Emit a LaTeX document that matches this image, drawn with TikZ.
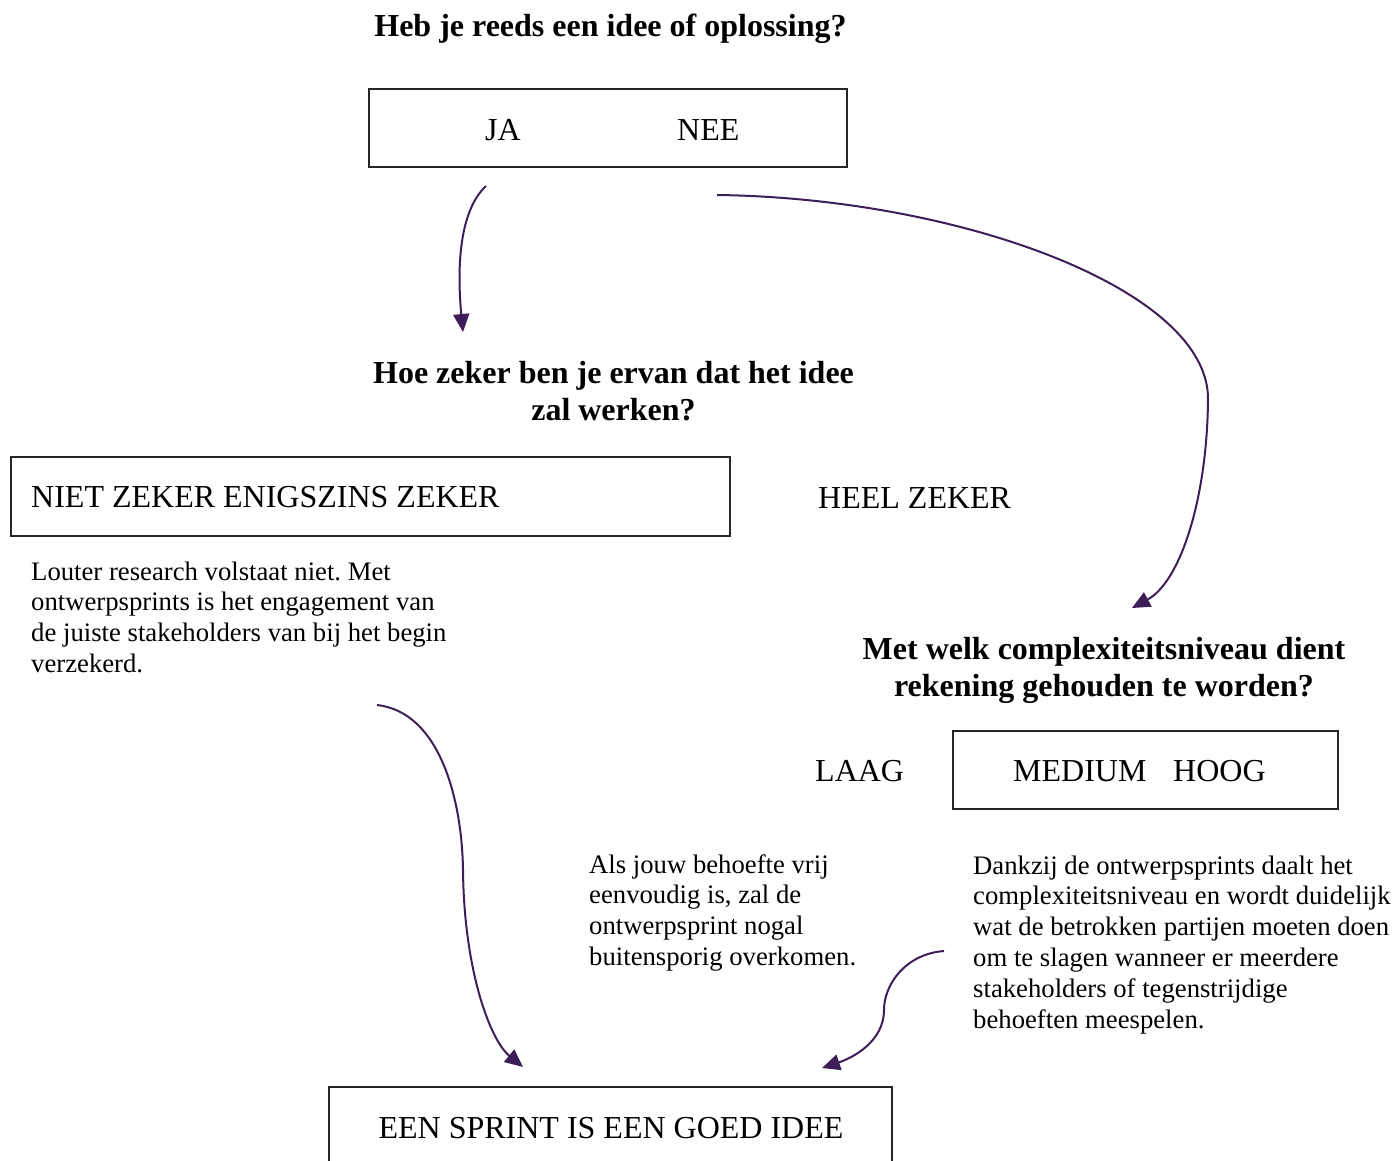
\documentclass[tikz,border=0pt]{standalone}
\usepackage{fontspec}
\setmainfont{Liberation Serif}
\usetikzlibrary{arrows.meta}
\definecolor{flowpurple}{RGB}{62,30,88}
\frenchspacing
\begin{document}
\begin{tikzpicture}[x=1pt,y=-1pt,
  big/.style={font=\fontsize{32}{37}\selectfont, inner sep=0pt},
  head/.style={font=\fontsize{32}{37}\selectfont\bfseries, inner sep=0pt, align=flush center, text width=560pt},
  body/.style={font=\fontsize{26.7}{30.8}\selectfont, inner sep=0pt, align=flush left, text width=440pt},
  frame/.style={draw=black!85, line width=1.2pt, inner sep=0pt},
  flow/.style={draw=flowpurple, line width=2pt, -{Triangle[length=18pt,width=16pt]}}]
\useasboundingbox (0,0) rectangle (1398,1160);

% question 1
\node[head, anchor=base] (q1) at (610.5,36) {Heb je reeds een idee of oplossing?};
\node[frame, minimum width=478pt, minimum height=78pt] (box1) at (608,128) {};
\node[big, anchor=base west] (ja) at (485,140.5) {JA};
\node[big, anchor=base west] (nee) at (677,140.5) {NEE};

% question 2
\node[head, anchor=base] (q2) at (613.5,383) {Hoe zeker ben je ervan dat het idee\\zal werken?};
\node[frame, minimum width=719pt, minimum height=79pt] (box2) at (370.5,496.5) {};
\node[big, anchor=base west] (niet) at (31,507.5) {NIET ZEKER ENIGSZINS ZEKER};
\node[big, anchor=base west] (heel) at (818,508.5) {HEEL ZEKER};
\node[body, anchor=base west] (p1) at (31,580) {Louter research volstaat niet. Met\\ontwerpsprints is het engagement van\\de juiste stakeholders van bij het begin\\verzekerd.};

% question 3
\node[head, anchor=base] (q3) at (1104,659.5) {Met welk complexiteitsniveau dient\\rekening gehouden te worden?};
\node[big, anchor=base west] (laag) at (815,781) {LAAG};
\node[frame, minimum width=385pt, minimum height=78pt] (box3) at (1145.5,770) {};
\node[big, anchor=base west] (medium) at (1013,781) {MEDIUM};
\node[big, anchor=base west] (hoog) at (1173,781) {HOOG};
\node[body, anchor=base west] (p2) at (589,873) {Als jouw behoefte vrij\\eenvoudig is, zal de\\ontwerpsprint nogal\\buitensporig overkomen.};
\node[body, anchor=base west] (p3) at (973,874) {Dankzij de ontwerpsprints daalt het\\complexiteitsniveau en wordt duidelijk\\wat de betrokken partijen moeten doen\\om te slagen wanneer er meerdere\\stakeholders of tegenstrijdige\\behoeften meespelen.};

% conclusion
\node[frame, minimum width=563pt, minimum height=120pt] (box4) at (610.5,1147) {};
\node[big, anchor=base] (sprint) at (611,1138.5) {EEN SPRINT IS EEN GOED IDEE};

% connector ends
\coordinate (a1s) at (486,186);
\coordinate (a1e) at (463,332);
\coordinate (a2s) at (717,195);
\coordinate (a2m) at (1208,400);
\coordinate (a2e) at (1132,608);
\coordinate (a3s) at (377,705);
\coordinate (a3m) at (463,870);
\coordinate (a3e) at (523,1067);
\coordinate (a4s) at (944,951);
\coordinate (a4m) at (884,1010);
\coordinate (a4e) at (822,1068);

\draw[flow] (a1s) .. controls (456,214) and (458,280) .. (a1e);
\draw[flow] (a2s) .. controls (960,198) and (1210,290) .. (a2m)
  .. controls (1207,500) and (1180,582) .. (a2e);
\draw[flow] (a3s) .. controls (440,712) and (462,800) .. (a3m)
  .. controls (464,970) and (490,1040) .. (a3e);
\draw[flow] (a4s) .. controls (905,954) and (884,985) .. (a4m)
  .. controls (884,1042) and (852,1058) .. (a4e);
\end{tikzpicture}
\end{document}
